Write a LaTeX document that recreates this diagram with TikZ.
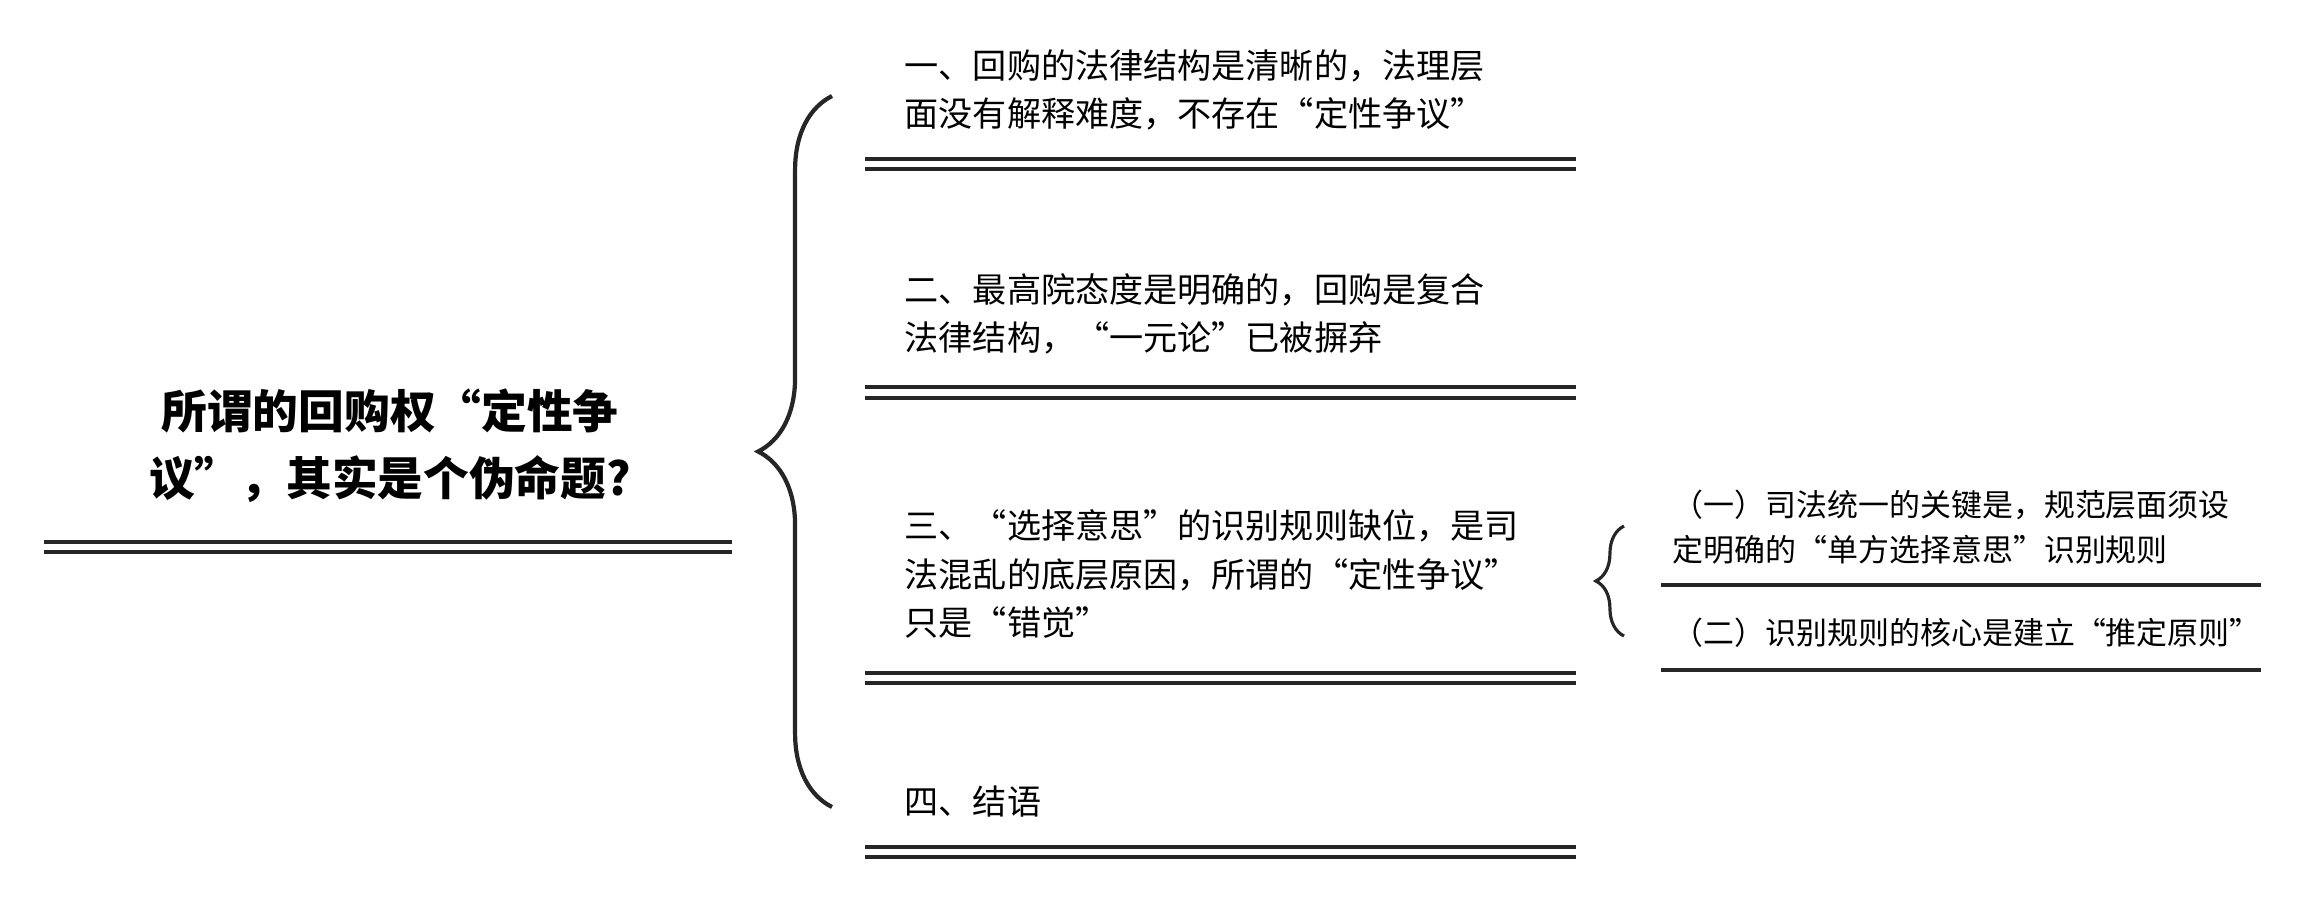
\documentclass[tikz,border=0pt]{standalone}
\usepackage{fontspec}
\setmainfont{Noto Sans CJK SC}
\usetikzlibrary{decorations.pathreplacing}
\tikzset{
  title/.style={font=\fontsize{13}{19}\selectfont\bfseries, align=center},
  branch/.style={font=\fontsize{9.7}{13.8}\selectfont, align=left, anchor=west, inner sep=0pt},
  leaf/.style={font=\fontsize{8.8}{13}\selectfont, align=left, anchor=west, inner sep=0pt},
  rule/.style={line width=1.3pt, black!85},
  bigbrace/.style={decorate, decoration={brace, amplitude=21pt}, line width=1.2pt, black!85},
  smallbrace/.style={decorate, decoration={brace, amplitude=8pt}, line width=0.9pt, black!85}
}
\begin{document}
\begin{tikzpicture}[x=0.01cm, y=-0.01cm]
    \useasboundingbox (0,0) rectangle (2298,902);

    % root
    \node[title] (root) at (390,446) {所谓的回购权“定性争\\议”，其实是个伪命题?};
    \draw[rule] (44,542) -- (732,542);
    \draw[rule] (44,552) -- (732,552);

    % big brace
    \coordinate (braceB) at (832,807);
    \coordinate (braceT) at (832,96);
    \draw[bigbrace] (braceB) -- (braceT);

    % branches
    \node[branch] (b1) at (904,90) {一、回购的法律结构是清晰的，法理层\\面没有解释难度，不存在“定性争议”};
    \draw[rule] (865,159) -- (1576,159);
    \draw[rule] (865,169) -- (1576,169);

    \node[branch] (b2) at (904,314) {二、最高院态度是明确的，回购是复合\\法律结构，“一元论”已被摒弃};
    \draw[rule] (865,387) -- (1576,387);
    \draw[rule] (865,398) -- (1576,398);

    \node[branch] (b3) at (904,574) {三、“选择意思”的识别规则缺位，是司\\法混乱的底层原因，所谓的“定性争议”\\只是“错觉”};
    \draw[rule] (865,673) -- (1576,673);
    \draw[rule] (865,683) -- (1576,683);

    \node[branch] (b4) at (904,801) {四、结语};
    \draw[rule] (865,847) -- (1576,847);
    \draw[rule] (865,857) -- (1576,857);

    % sub branches of b3
    \coordinate (sbB) at (1624,636);
    \coordinate (sbT) at (1624,526);
    \draw[smallbrace] (sbB) -- (sbT);

    \node[leaf] (s1) at (1672,527) {（一）司法统一的关键是，规范层面须设\\定明确的“单方选择意思”识别规则};
    \draw[rule] (1661,585) -- (2261,585);

    \node[leaf] (s2) at (1672,633) {（二）识别规则的核心是建立“推定原则”};
    \draw[rule] (1661,670) -- (2261,670);
\end{tikzpicture}
\end{document}
